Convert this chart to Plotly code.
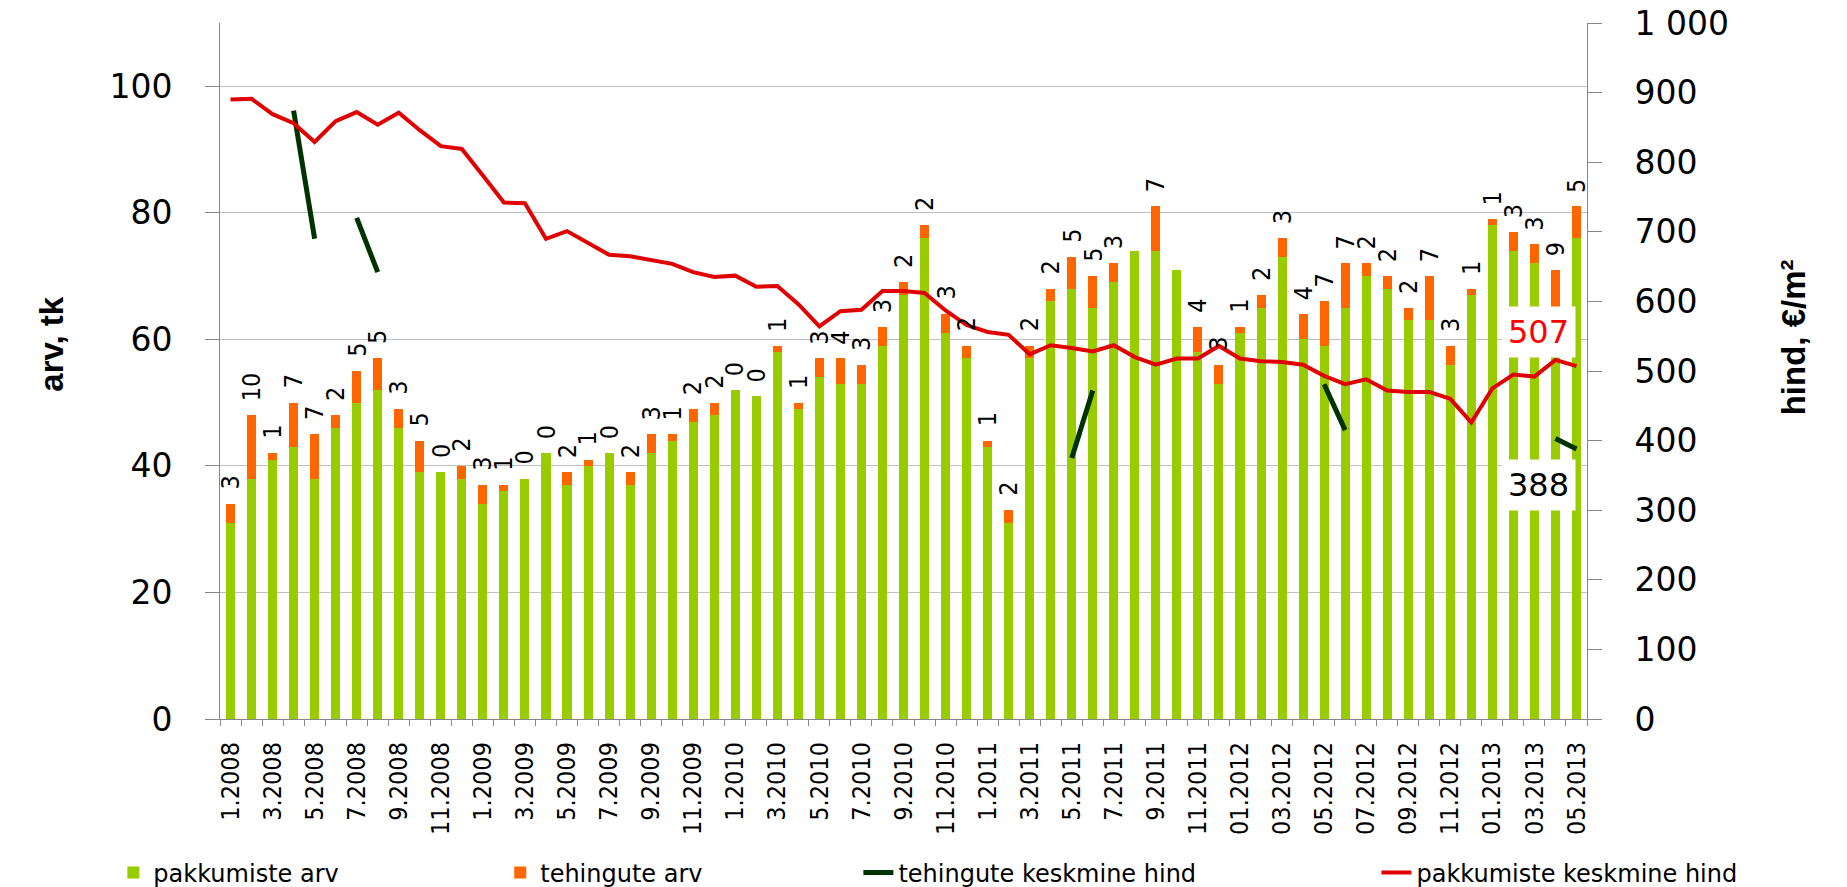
import plotly.graph_objects as go

months = [
    "1.2008", "2.2008", "3.2008", "4.2008", "5.2008", "6.2008", "7.2008", "8.2008", "9.2008", "10.2008", "11.2008", "12.2008",
    "1.2009", "2.2009", "3.2009", "4.2009", "5.2009", "6.2009", "7.2009", "8.2009", "9.2009", "10.2009", "11.2009", "12.2009",
    "1.2010", "2.2010", "3.2010", "4.2010", "5.2010", "6.2010", "7.2010", "8.2010", "9.2010", "10.2010", "11.2010", "12.2010",
    "1.2011", "2.2011", "3.2011", "4.2011", "5.2011", "6.2011", "7.2011", "8.2011", "9.2011", "10.2011", "11.2011", "12.2011",
    "01.2012", "02.2012", "03.2012", "04.2012", "05.2012", "06.2012", "07.2012", "08.2012", "09.2012", "10.2012", "11.2012", "12.2012",
    "01.2013", "02.2013", "03.2013", "04.2013", "05.2013",
]

pakkumiste_arv = [
    31, 38, 41, 43, 38, 46, 50, 52, 46, 39, 39, 38,
    34, 36, 38, 42, 37, 40, 42, 37, 42, 44, 47, 48,
    52, 51, 58, 49, 54, 53, 53, 59, 67, 76, 61, 57,
    43, 31, 57, 66, 68, 65, 69, 74, 74, 71, 58, 53,
    61, 65, 73, 60, 59, 65, 70, 68, 63, 63, 56, 67,
    78, 74, 72, 62, 76,
]

tehingute_arv = [
    3, 10, 1, 7, 7, 2, 5, 5, 3, 5, 0, 2,
    3, 1, 0, 0, 2, 1, 0, 2, 3, 1, 2, 2,
    0, 0, 1, 1, 3, 4, 3, 3, 2, 2, 3, 2,
    1, 2, 2, 2, 5, 5, 3, None, 7, None, 4, 3,
    1, 2, 3, 4, 7, 7, 2, 2, 2, 7, 3, 1,
    1, 3, 3, 9, 5,
]

pakkumiste_hind = [
    890, 891, 869, 856, 829, 859, 872, 854, 871, 846, 823, 819,
    781, 742, 741, 690, 701, 684, 667, 665, 660, 654, 642, 635,
    637, 621, 622, 596, 564, 586, 588, 615, 615, 612, 587, 566,
    556, 552, 524, 537, 533, 528, 537, 520, 509, 518, 518, 536,
    518, 514, 513, 509, 493, 481, 488, 472, 470, 470, 460, 426,
    475, 495, 492, 516, 507,
]

tehingute_hind = [
    None, None, None, 874, 690, None, 720, 642, None, None, None, None,
    None, None, None, None, None, None, None, None, None, None, None, None,
    None, None, None, None, None, None, None, None, None, None, None, None,
    None, None, None, None, 375, 472, None, None, None, None, None, None,
    None, None, None, None, 481, 415, None, None, None, None, None, None,
    None, None, None, 403, 388,
]

left_ticks = [0, 20, 40, 60, 80, 100]
right_ticks = [0, 100, 200, 300, 400, 500, 600, 700, 800, 900, 1000]
right_ticktext = ["0", "100", "200", "300", "400", "500", "600", "700", "800", "900", "1 000"]

GREEN = "#99CC00"
ORANGE = "#FF6600"
DARK = "#003300"
RED = "#E00000"
AXIS = "#868686"
GRID = "#BFBFBF"
NARROW = "Liberation Sans Narrow, DejaVu Sans Condensed, Arial Narrow, sans-serif"
WIDE = "DejaVu Sans, Verdana, sans-serif"

idx = list(range(len(months)))
tehingute_bar = [v if v is not None else 0 for v in tehingute_arv]

fig = go.Figure()
fig.add_trace(go.Bar(x=idx, y=pakkumiste_arv, name="pakkumiste arv", marker_color=GREEN,
                     marker_line_width=0, width=0.43, legend="legend"))
fig.add_trace(go.Bar(x=idx, y=tehingute_bar, name="tehingute arv", marker_color=ORANGE,
                     marker_line_width=0, width=0.43, legend="legend2"))
fig.add_trace(go.Scatter(x=idx, y=tehingute_hind, name="tehingute keskmine hind", mode="lines",
                         line=dict(color=DARK, width=5), connectgaps=False, yaxis="y2", legend="legend3"))
fig.add_trace(go.Scatter(x=idx, y=pakkumiste_hind, name="pakkumiste keskmine hind", mode="lines",
                         line=dict(color=RED, width=4), yaxis="y2", legend="legend4"))

annotations = []
for i, (g, o) in enumerate(zip(pakkumiste_arv, tehingute_arv)):
    if o is None:
        continue
    annotations.append(dict(x=i, y=g + o, xref="x", yref="y", text=str(o), showarrow=False,
                            textangle=-90, yanchor="bottom", xanchor="center", yshift=12,
                            font=dict(family=NARROW, size=25, color="black")))

annotations.append(dict(x=idx[-1], y=pakkumiste_hind[-1], xref="x", yref="y2", text=str(pakkumiste_hind[-1]),
                        showarrow=False, xanchor="right", yanchor="bottom", yshift=8,
                        bgcolor="white", borderpad=6, font=dict(family=WIDE, size=32, color="#FF0000")))
annotations.append(dict(x=idx[-1], y=tehingute_hind[-1], xref="x", yref="y2", text=str(tehingute_hind[-1]),
                        showarrow=False, xanchor="right", yanchor="top", yshift=-10,
                        bgcolor="white", borderpad=6, font=dict(family=WIDE, size=32, color="black")))

annotations.append(dict(x=-0.138, y=0.539, xref="paper", yref="paper", text="<b>arv, tk</b>", showarrow=False,
                        textangle=-90, font=dict(family="Liberation Sans, Arial, sans-serif", size=33, color="black")))
annotations.append(dict(x=1.166, y=0.549, xref="paper", yref="paper", text="<b>hind, €/m²</b>", showarrow=False,
                        textangle=-90, font=dict(family="Liberation Sans, Arial, sans-serif", size=33, color="black")))

leg_common = dict(orientation="h", yanchor="middle", y=-0.221, xanchor="left",
                  font=dict(family=WIDE, size=24, color="black"), bgcolor="rgba(0,0,0,0)")

# page body has an 8px margin, so the figure is 8px smaller and margins shifted
fig.update_layout(
    width=1839, height=879,
    margin=dict(l=212, r=260, t=15, b=168, autoexpand=False),
    paper_bgcolor="white", plot_bgcolor="white",
    barmode="stack",
    showlegend=True,
    legend=dict(x=-0.078, **leg_common),
    legend2=dict(x=0.205, **leg_common),
    legend3=dict(x=0.467, **leg_common),
    legend4=dict(x=0.846, **leg_common),
    annotations=annotations,
    xaxis=dict(range=[-0.5, len(months) - 0.5], tickvals=idx[::2], ticktext=months[::2], tickangle=-90,
               ticks="", ticklabelstandoff=12, showline=True, linecolor=AXIS, linewidth=1,
               showgrid=False, zeroline=False, automargin=False, ticklabeloverflow="allow",
               tickfont=dict(family=NARROW, size=25, color="black"),
               minor=dict(tick0=-0.5, dtick=1, ticks="outside", ticklen=6, tickcolor=AXIS, showgrid=False)),
    yaxis=dict(range=[0, 110], tickvals=left_ticks, showgrid=True, gridcolor=GRID, gridwidth=1,
               showline=True, linecolor=AXIS, ticks="outside", ticklen=14, tickcolor=AXIS,
               ticklabelstandoff=26, zeroline=False, automargin=False, ticklabeloverflow="allow",
               tickfont=dict(family=WIDE, size=33, color="black")),
    yaxis2=dict(range=[0, 1000], overlaying="y", side="right", tickvals=right_ticks, ticktext=right_ticktext,
                showgrid=False, showline=True, linecolor=AXIS, ticks="outside", ticklen=14, tickcolor=AXIS,
                ticklabelstandoff=26, zeroline=False, automargin=False, ticklabeloverflow="allow",
                tickfont=dict(family=WIDE, size=33, color="black")),
)

fig.write_html("out.html")
